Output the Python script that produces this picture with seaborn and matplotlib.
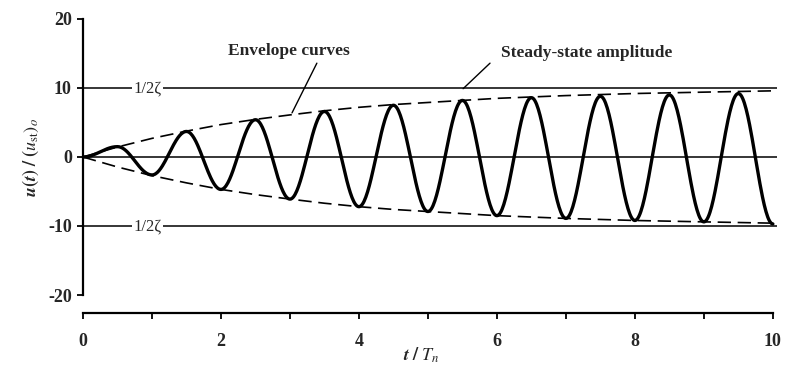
import numpy as np
import pandas as pd
import matplotlib
matplotlib.use("Agg")
import matplotlib.pyplot as plt
import seaborn as sns

# ---- data ----
ext_t = [0, 0.5, 1, 1.5, 2, 2.5, 3, 3.5, 4, 4.5, 5, 5.5, 6, 6.5, 7, 7.5, 8, 8.5, 9, 9.5, 10]
ext_u = [0, 1.5, -2.6, 3.7, -4.7, 5.4, -6.1, 6.6, -7.2, 7.5, -7.9, 8.2, -8.5, 8.6, -8.9, 8.8,
         -9.2, 9.0, -9.4, 9.2, -9.7]
env_t = [0, 0.5, 1, 1.5, 2, 2.5, 3, 3.5, 4, 4.5, 5, 6, 7, 8, 9, 10.06]
env_u = [0, 1.45, 2.7, 3.75, 4.7, 5.45, 6.1, 6.7, 7.2, 7.6, 7.9, 8.5, 8.9, 9.2, 9.4, 9.6]
steady = 10
x_ticks = [0, 2, 4, 6, 8, 10]
y_ticks = [-20, -10, 0, 10, 20]

sns.set_theme(style="white")
plt.rcParams["font.family"] = ["Liberation Serif", "DejaVu Serif"]
plt.rcParams["mathtext.fontset"] = "stix"

# smooth half-cosine path between successive extrema (drawing shape only)
rows = []
for i in range(len(ext_t) - 1):
    s = np.linspace(0, 1, 40, endpoint=False)
    t = ext_t[i] + (ext_t[i + 1] - ext_t[i]) * s
    u = ext_u[i] + (ext_u[i + 1] - ext_u[i]) * (1 - np.cos(np.pi * s)) / 2
    rows.append(pd.DataFrame({"t": t, "u": u}))
rows.append(pd.DataFrame({"t": [ext_t[-1]], "u": [ext_u[-1]]}))
resp = pd.concat(rows, ignore_index=True)

env_up = pd.DataFrame({"t": env_t, "u": env_u})
env_lo = pd.DataFrame({"t": env_t, "u": [-v for v in env_u]})

fig = plt.figure(figsize=(7.86, 3.70), dpi=100)
ax = fig.add_axes([83 / 786, 1 - 295 / 370, 694 / 786, 276 / 370])

xmax = 10.06
ax.plot([0, xmax], [0, 0], color="black", lw=1.1)
ax.plot([0, xmax], [steady, steady], color="black", lw=1.1)
ax.plot([0, xmax], [-steady, -steady], color="black", lw=1.1)

sns.lineplot(data=env_up, x="t", y="u", ax=ax, color="black", lw=1.2,
             linestyle=(0, (8, 4)), estimator=None)
sns.lineplot(data=env_lo, x="t", y="u", ax=ax, color="black", lw=1.2,
             linestyle=(0, (8, 4)), estimator=None)
sns.lineplot(data=resp, x="t", y="u", ax=ax, color="black", lw=2.4,
             estimator=None, sort=False)

for yv in (steady, -steady):
    ax.text(0.93, yv, "1/2ζ", ha="center", va="center", fontsize=12,
            bbox=dict(facecolor="white", edgecolor="none", pad=1.0))

ax.text(2.99, 15.4, "Envelope curves", ha="center", va="center",
        fontsize=12.5, fontweight="bold")
ax.plot([3.39, 3.03], [13.6, 6.4], color="black", lw=1.0)
ax.text(7.3, 15.1, "Steady-state amplitude", ha="center", va="center",
        fontsize=12.5, fontweight="bold")
ax.plot([5.9, 5.51], [13.6, 9.9], color="black", lw=1.0)

# spines first (repositioning a spine resets its ticks)
for side in ("top", "right"):
    ax.spines[side].set_visible(False)
ax.spines["left"].set_color("black")
ax.spines["left"].set_linewidth(1.6)
ax.spines["bottom"].set_color("black")
ax.spines["bottom"].set_linewidth(1.6)
ax.spines["bottom"].set_position(("outward", 13))

ax.set_xlim(0, xmax)
ax.set_ylim(-20, 20)
ax.spines["left"].set_bounds(-20, 20)
ax.spines["bottom"].set_bounds(0, 10)
ax.set_xticks(x_ticks)
ax.set_xticks([1, 3, 5, 7, 9], minor=True)
ax.set_yticks(y_ticks)
ax.set_xticklabels([str(v) for v in x_ticks], fontsize=13, fontweight="bold")
ax.set_yticklabels([str(v) for v in y_ticks], fontsize=13, fontweight="bold")
ax.tick_params(axis="both", which="both", direction="out", length=4, width=1.3,
               color="black", bottom=True, left=True)
ax.tick_params(axis="x", pad=10)
ax.tick_params(axis="y", pad=4)

ax.set_xlabel(r"$\boldsymbol{t\ /\ T_n}$", fontsize=13)
ax.xaxis.set_label_coords(0.487, -0.185)
ax.set_ylabel(r"$\boldsymbol{u(t)\ /\ (u_{\mathrm{st}})_o}$", fontsize=13, labelpad=5)

fig.savefig("out.png", dpi=100)
